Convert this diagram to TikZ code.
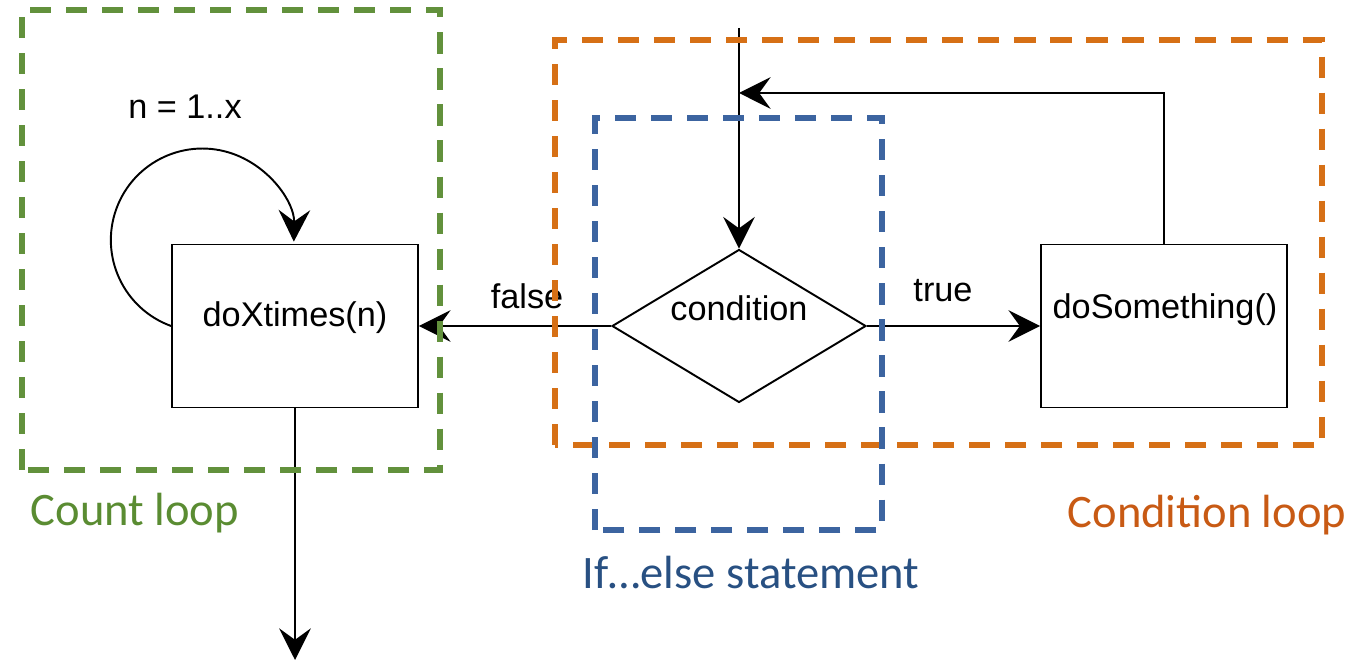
\documentclass[tikz,border=0pt]{standalone}
\usepackage{fontspec}
\setmainfont{Liberation Sans}
\newfontfamily\calib{Carlito}
\usetikzlibrary{arrows.meta,shapes.geometric}
\definecolor{cgreen}{HTML}{62913C}
\definecolor{corange}{HTML}{D67016}
\definecolor{cblue}{HTML}{3C64A0}
\definecolor{tgreen}{HTML}{5A8C32}
\definecolor{torange}{HTML}{C85A14}
\definecolor{tblue}{HTML}{285082}
\begin{document}
\begin{tikzpicture}[x=0.02cm,y=0.02cm,
 box/.style={draw, line width=1.1pt, minimum width=4.92cm, minimum height=3.26cm, inner sep=0},
 dia/.style={draw, diamond, line width=1.1pt, minimum width=5.08cm, minimum height=3.06cm, inner sep=0},
 arr/.style={line width=1.1pt, -{Stealth[length=18pt,width=18pt,inset=6.5pt]}},
 grp/.style={line width=3pt, dash pattern=on 12pt off 8.5pt},
 lbl/.style={font=\fontsize{19.5}{23}\selectfont, inner sep=0},
 captext/.style={font=\calib\fontsize{26.5}{32}\selectfont, inner sep=0}]
\useasboundingbox (0,0) rectangle (1359,663);

% main nodes
\node[box] (dox) at (295,337) {};
\node[box] (dos) at (1164,337) {};
\node[dia] (cond) at (739,337) {};

% texts
\node[lbl] (tdox) at (295,345) {doXtimes(n)};
\node[lbl] (tdos) at (1165,353) {doSomething()};
\node[lbl] (tcond) at (739,355) {condition};
\node[lbl] (tfalse) at (527,367) {false};
\node[lbl] (ttrue) at (943,372) {true};
\node[lbl] (tn) at (185,556) {n = 1..x};

% free ends
\coordinate (top) at (739,635);
\coordinate (merge) at (739,570);
\coordinate (out) at (295,3);

% connectors
\draw[arr] (top) -- (cond.north);
\draw[arr] (dos.north) |- (merge);
\draw[arr] (cond.west) -- (dox.east);
\draw[arr] (cond.east) -- (dos.west);
\draw[arr] (dox.south) -- (out);
\draw[arr] (dox.west) arc[start angle=250, end angle=-1, radius=1.83cm];

% groups
\draw[grp, cgreen] (22,193) rectangle (440,653);
\draw[grp, corange] (555,218) rectangle (1322,623);
\draw[grp, cblue] (595,133) rectangle (882,545);

% captions
\node[captext, text=tgreen] (ccount) at (135,150) {Count loop};
\node[captext, text=torange] (ccond) at (1207,148) {Condition loop};
\node[captext, text=tblue] (cif) at (751,90) {If…else statement};
\end{tikzpicture}
\end{document}
